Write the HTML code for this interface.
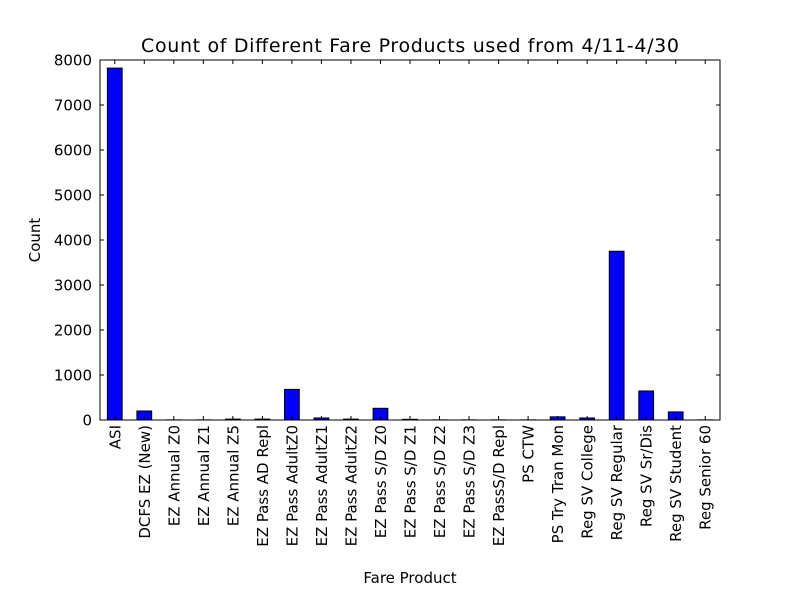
<!DOCTYPE html>
<html><head><meta charset="utf-8"><style>body{margin:0;background:#fff}svg{font-family:"DejaVu Sans","Liberation Sans",sans-serif}</style></head>
<body>
<svg id="chart" width="800" height="600">
<rect width="800" height="600" fill="#fff"/>
<text x="410" y="52" font-size="19" text-anchor="middle" textLength="538" lengthAdjust="spacing">Count of Different Fare Products used from 4/11-4/30</text>
<g id="bars"></g>
<g id="axes"></g>
<rect x="100" y="60" width="620" height="360" fill="none" stroke="#000" stroke-width="1"/>
<text x="410" y="583" font-size="15" text-anchor="middle">Fare Product</text>
<text x="40" y="240" font-size="15" text-anchor="middle" transform="rotate(-90 40 240)">Count</text>
</svg>
<script>
const categories=["ASI","DCFS EZ (New)","EZ Annual Z0","EZ Annual Z1","EZ Annual Z5","EZ Pass AD Repl","EZ Pass AdultZ0","EZ Pass AdultZ1","EZ Pass AdultZ2","EZ Pass S/D Z0","EZ Pass S/D Z1","EZ Pass S/D Z2","EZ Pass S/D Z3","EZ PassS/D Repl","PS CTW","PS Try Tran Mon","Reg SV College","Reg SV Regular","Reg SV Sr/Dis","Reg SV Student","Reg Senior 60"];
const counts=[7820,200,3,3,20,20,680,45,20,260,15,3,3,3,3,70,45,3750,645,180,3];
const yTicks=[0,1000,2000,3000,4000,5000,6000,7000,8000];
const NS="http://www.w3.org/2000/svg";
const L=100,R=720,T=60,B=420,YMAX=8000;
const step=(R-L)/categories.length;
const x=i=>L+(i+0.5)*step;
const y=v=>B-(v/YMAX)*(B-T);
const bars=document.getElementById('bars'),axes=document.getElementById('axes');
function mk(t,a,p){const e=document.createElementNS(NS,t);for(const k in a)e.setAttribute(k,a[k]);p.appendChild(e);return e;}
counts.forEach((v,i)=>{
 const r=mk('rect',{x:x(i)-step/4,y:y(v),width:step/2,height:B-y(v),fill:'#0000ff',stroke:'#000','stroke-width':1},bars);
 
 
 mk('line',{x1:x(i),x2:x(i),y1:B,y2:B-4,stroke:'#000'},axes);
 mk('line',{x1:x(i),x2:x(i),y1:T,y2:T+4,stroke:'#000'},axes);
 const lb=mk('text',{x:0,y:0,'font-size':15,'text-anchor':'end',transform:`translate(${x(i)+5.5},${B+5}) rotate(-90)`},axes);
 lb.textContent=categories[i];
 
 
});
yTicks.forEach(v=>{
 mk('line',{x1:L,x2:L+4,y1:y(v),y2:y(v),stroke:'#000'},axes);
 mk('line',{x1:R,x2:R-4,y1:y(v),y2:y(v),stroke:'#000'},axes);
 const t=mk('text',{x:L-8,y:y(v)+5.5,'font-size':15,'text-anchor':'end'},axes);
 t.textContent=v;
 
 
});
</script>
</body></html>
